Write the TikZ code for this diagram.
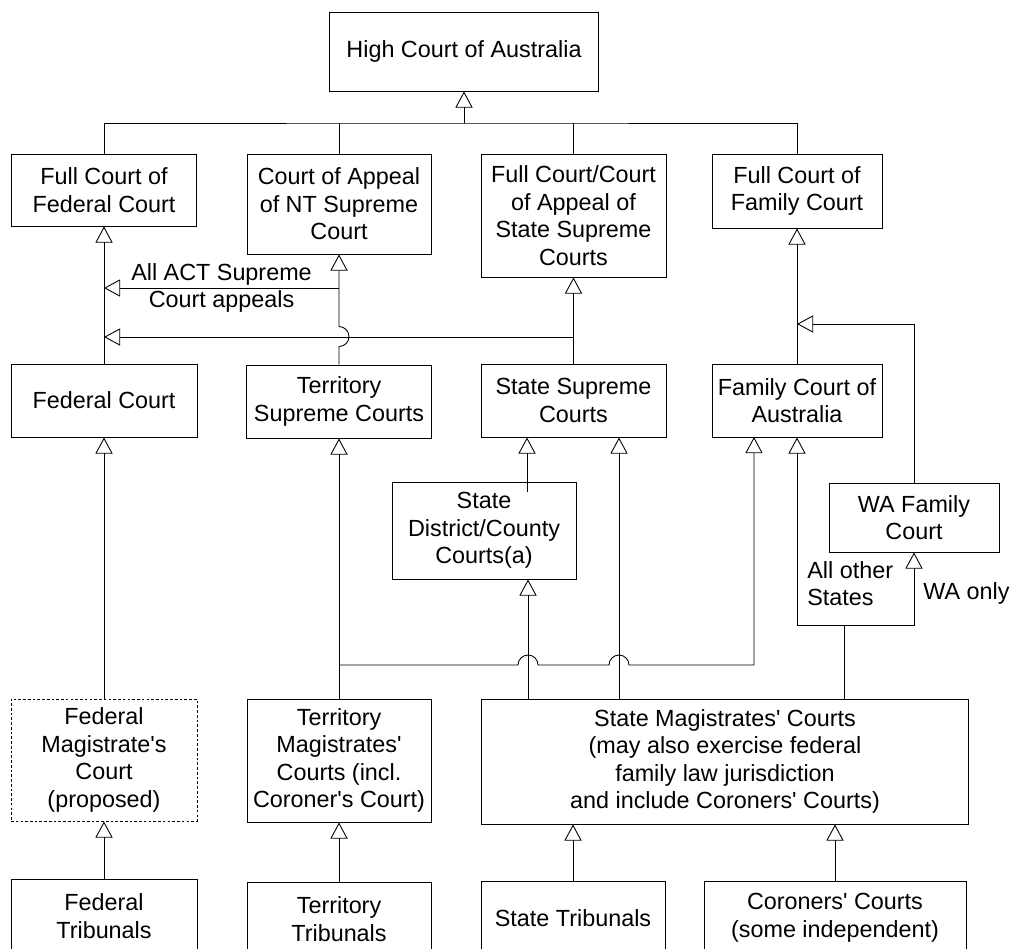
\documentclass[tikz,border=0pt]{standalone}
\usepackage{fontspec}
\setmainfont{Liberation Sans}[Ligatures=TeXOff]
\usetikzlibrary{arrows.meta}

\begin{document}
\begin{tikzpicture}[
    x=0.02cm, y=0.02cm,
    court/.style={rectangle, draw, line width=0.55pt, inner sep=0pt, align=center, font=\fontsize{13.3}{15.7}\selectfont},
    proposed/.style={court, dash pattern=on 1.5pt off 1.2pt},
    arr/.style={-{Triangle[open, length=9.2pt, width=9.8pt]}, line width=0.5pt},
    link/.style={line width=0.5pt},
    lbl/.style={inner sep=0pt, font=\fontsize{13.3}{15.7}\selectfont},
]
    \useasboundingbox (0,0) rectangle (1010,-948);
    \clip (0,0) rectangle (1010,-948);

    % Top level
    \node[court, minimum width=5.4cm, minimum height=1.58cm] (hca) at (464,-51.5) {High Court of Australia};

    % Appeal level
    \node[court, minimum width=3.7cm, minimum height=1.44cm] (fcf) at (104,-190) {Full Court of\\Federal Court};
    \node[court, minimum width=3.68cm, minimum height=2cm] (nta) at (339,-204) {Court of Appeal\\of NT Supreme\\Court};
    \node[court, minimum width=3.7cm, minimum height=2.46cm] (ssa) at (573.5,-215.5) {Full Court/Court\\of Appeal of\\State Supreme\\Courts};
    \node[court, minimum width=3.4cm, minimum height=1.48cm] (fcfam) at (797,-191) {Full Court of\\Family Court};

    % Superior courts
    \node[court, minimum width=3.72cm, minimum height=1.46cm] (fed) at (104,-400.5) {Federal Court};
    \node[court, minimum width=3.7cm, minimum height=1.46cm] (tsc) at (339,-401.5) {Territory\\Supreme Courts};
    \node[court, minimum width=3.7cm, minimum height=1.46cm] (ssc) at (573.5,-400.5) {State Supreme\\Courts};
    \node[court, minimum width=3.4cm, minimum height=1.46cm] (fca) at (797,-400.5) {Family Court of\\Australia};

    % Intermediate courts
    \node[court, minimum width=3.68cm, minimum height=1.94cm] (dist) at (484,-530.5) {State\\District/County\\Courts(a)};
    \node[court, minimum width=3.4cm, minimum height=1.38cm] (wafc) at (914,-517.5) {WA Family\\Court};

    % Magistrates
    \node[proposed, minimum width=3.72cm, minimum height=2.44cm] (fmc) at (104,-760) {Federal\\Magistrate's\\Court\\(proposed)};
    \node[court, minimum width=3.68cm, minimum height=2.46cm] (tmc) at (339,-760.5) {Territory\\Magistrates'\\Courts (incl.\\Coroner's Court)};
    \node[court, minimum width=9.76cm, minimum height=2.5cm] (smc) at (725,-761.5) {State Magistrates' Courts\\(may also exercise federal\\family law jurisdiction\\and include Coroners' Courts)};

    % Tribunals
    \node[court, minimum width=3.72cm, minimum height=1.48cm] (ft) at (104,-916) {Federal\\Tribunals};
    \node[court, minimum width=3.68cm, minimum height=1.48cm] (tt) at (339,-919) {Territory\\Tribunals};
    \node[court, minimum width=3.68cm, minimum height=1.48cm] (st) at (573,-918) {State Tribunals};
    \node[court, minimum width=5.24cm, minimum height=1.48cm] (cc) at (835,-918) {Coroners' Courts\\(some independent)};

    % Appeals to the High Court
    \coordinate (bus) at (464,-123);
    \draw[link] (fcf.north) |- (bus) -| (fcfam.north);
    \draw[link] (nta.north) -- (nta.north |- bus);
    \draw[link] (ssa.north) -- (ssa.north |- bus);
    \draw[arr] (bus) -- (hca.south);

    % Federal stream
    \draw[arr] (fed.north) -- (fcf.south);
    \draw[arr] (fmc.north) -- (fed.south);
    \draw[arr] (ft.north) -- (fmc.south);

    % Territory stream
    \coordinate (act) at (339,-288);
    \draw[arr] (act) -- (act -| fcf.south) node[midway, lbl, align=center] {All ACT Supreme\\Court appeals};
    \draw[arr] (tsc.north) -- ++(0,18) arc[start angle=-90, end angle=90, radius=0.2cm] -- (nta.south);
    \draw[arr] (tmc.north) -- (tsc.south);
    \draw[arr] (tt.north) -- (tmc.south);
    \coordinate (tbr) at (339,-665);
    \draw[arr] (tbr) -- (518,-665) arc[start angle=180, end angle=0, radius=0.2cm]
        -- (609,-665) arc[start angle=180, end angle=0, radius=0.2cm]
        -- (754,-665) -- (754,-437);

    % State stream
    \draw[arr] (ssc.north) -- (ssa.south);
    \coordinate (sbr) at (573.5,-337);
    \draw[arr] (sbr) -- (sbr -| fcf.south);
    \coordinate (dtop) at (527,-492);
    \draw[arr] (dtop) -- (dtop |- ssc.south);
    \coordinate (m1) at (528,-699);
    \draw[arr] (m1) -- (m1 |- dist.south);
    \coordinate (m2) at (619,-699);
    \draw[arr] (m2) -- (m2 |- ssc.south);
    \draw[arr] (st.north) -- (st.north |- smc.south);
    \draw[arr] (cc.north) -- (cc.north |- smc.south);

    % Family law
    \draw[arr] (fca.north) -- (fcfam.south);
    \coordinate (wabr) at (797,-324);
    \draw[arr] (wafc.north) |- (wabr);
    \coordinate (m3) at (844,-699);
    \coordinate (fbr) at (844,-625);
    \draw[link] (m3) -- (fbr);
    \draw[arr] (fbr) -| (fca.south);
    \draw[arr] (fbr) -| (wafc.south);
    \node[lbl, anchor=west, align=left] (other) at (807,-583.5) {All other\\States};
    \node[lbl, anchor=west] (waonly) at (923,-593) {WA only};
\end{tikzpicture}
\end{document}
